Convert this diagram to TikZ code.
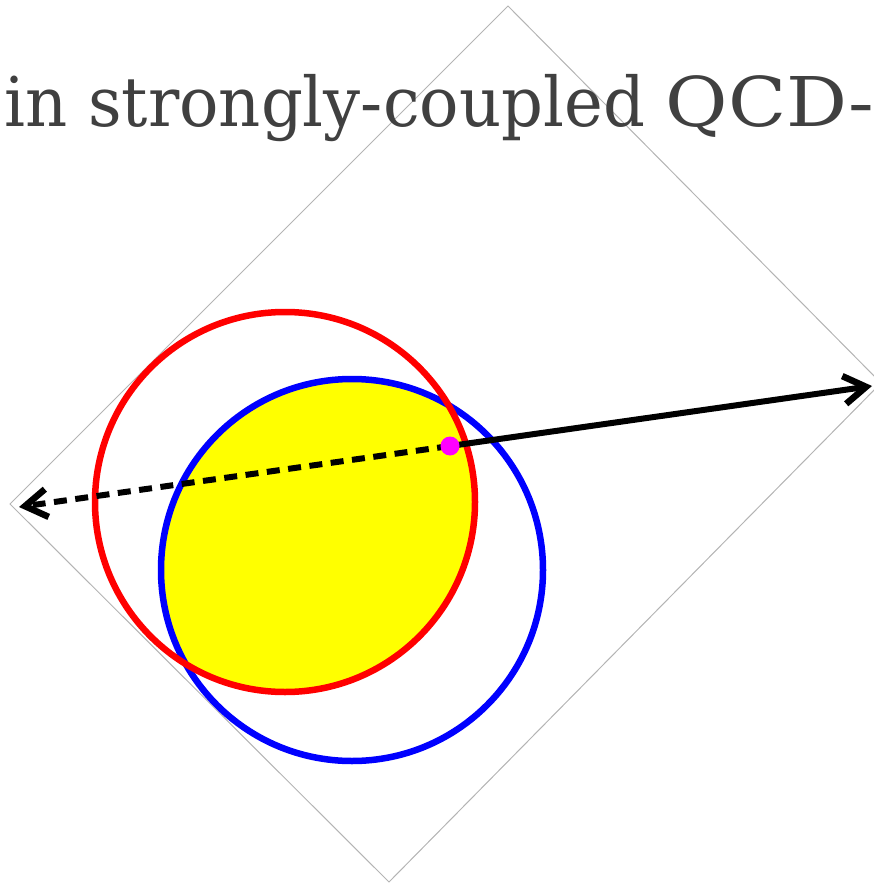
\documentclass[tikz,border=0pt]{standalone}
\usepackage{fontspec}
\newfontfamily\titlefont{DejaVu Serif}
\usetikzlibrary{arrows.meta}
\definecolor{textgray}{HTML}{404040}
\definecolor{framegray}{HTML}{B4B4B4}
\definecolor{fillyellow}{RGB}{255,255,0}
\definecolor{ringred}{RGB}{255,0,0}
\definecolor{ringblue}{RGB}{0,0,255}
\definecolor{dotmagenta}{RGB}{255,0,255}
\tikzset{
  frameline/.style={draw=framegray, line width=1pt},
  ringline/.style={line width=6.5pt},
  ray/.style={line width=6pt, -{Straight Barb[length=22pt, width=28pt, line width=6.5pt]}},
  dashray/.style={ray, dash pattern=on 13pt off 8.5pt},
}
\begin{document}
\begin{tikzpicture}[x=1pt, y=-1pt]
\useasboundingbox (0,0) rectangle (874,885);
% frame
\coordinate (T) at (508,6);
\coordinate (R) at (881,383);
\coordinate (B) at (389,882);
\coordinate (L) at (10,504);
\draw[frameline] (T) -- (R) -- (B) -- (L) -- cycle;
% title
\node[anchor=base west, inner sep=0pt, text=textgray,
      font=\titlefont\fontsize{68.6}{80}\selectfont] (title) at (4,127)
      {\scalebox{0.955}[1]{in strongly-coupled }\scalebox{1.11}[1]{QCD-}};
% circles
\coordinate (rc) at (285,502);
\coordinate (bc) at (352,570);
\begin{scope}
  \clip (rc) circle (190);
  \fill[fillyellow] (bc) circle (191);
\end{scope}
\draw[ringline, ringblue] (bc) circle (191);
\draw[ringline, ringred] (rc) circle (190);
% rays
\coordinate (p) at (450,446);
\coordinate (eR) at (872,386);
\coordinate (eL) at (19,507);
\draw[ray] (p) -- (eR);
\draw[dashray] (p) -- (eL);
\node[circle, fill=dotmagenta, minimum size=19pt, inner sep=0pt] (dot) at (p) {};
\end{tikzpicture}
\end{document}
